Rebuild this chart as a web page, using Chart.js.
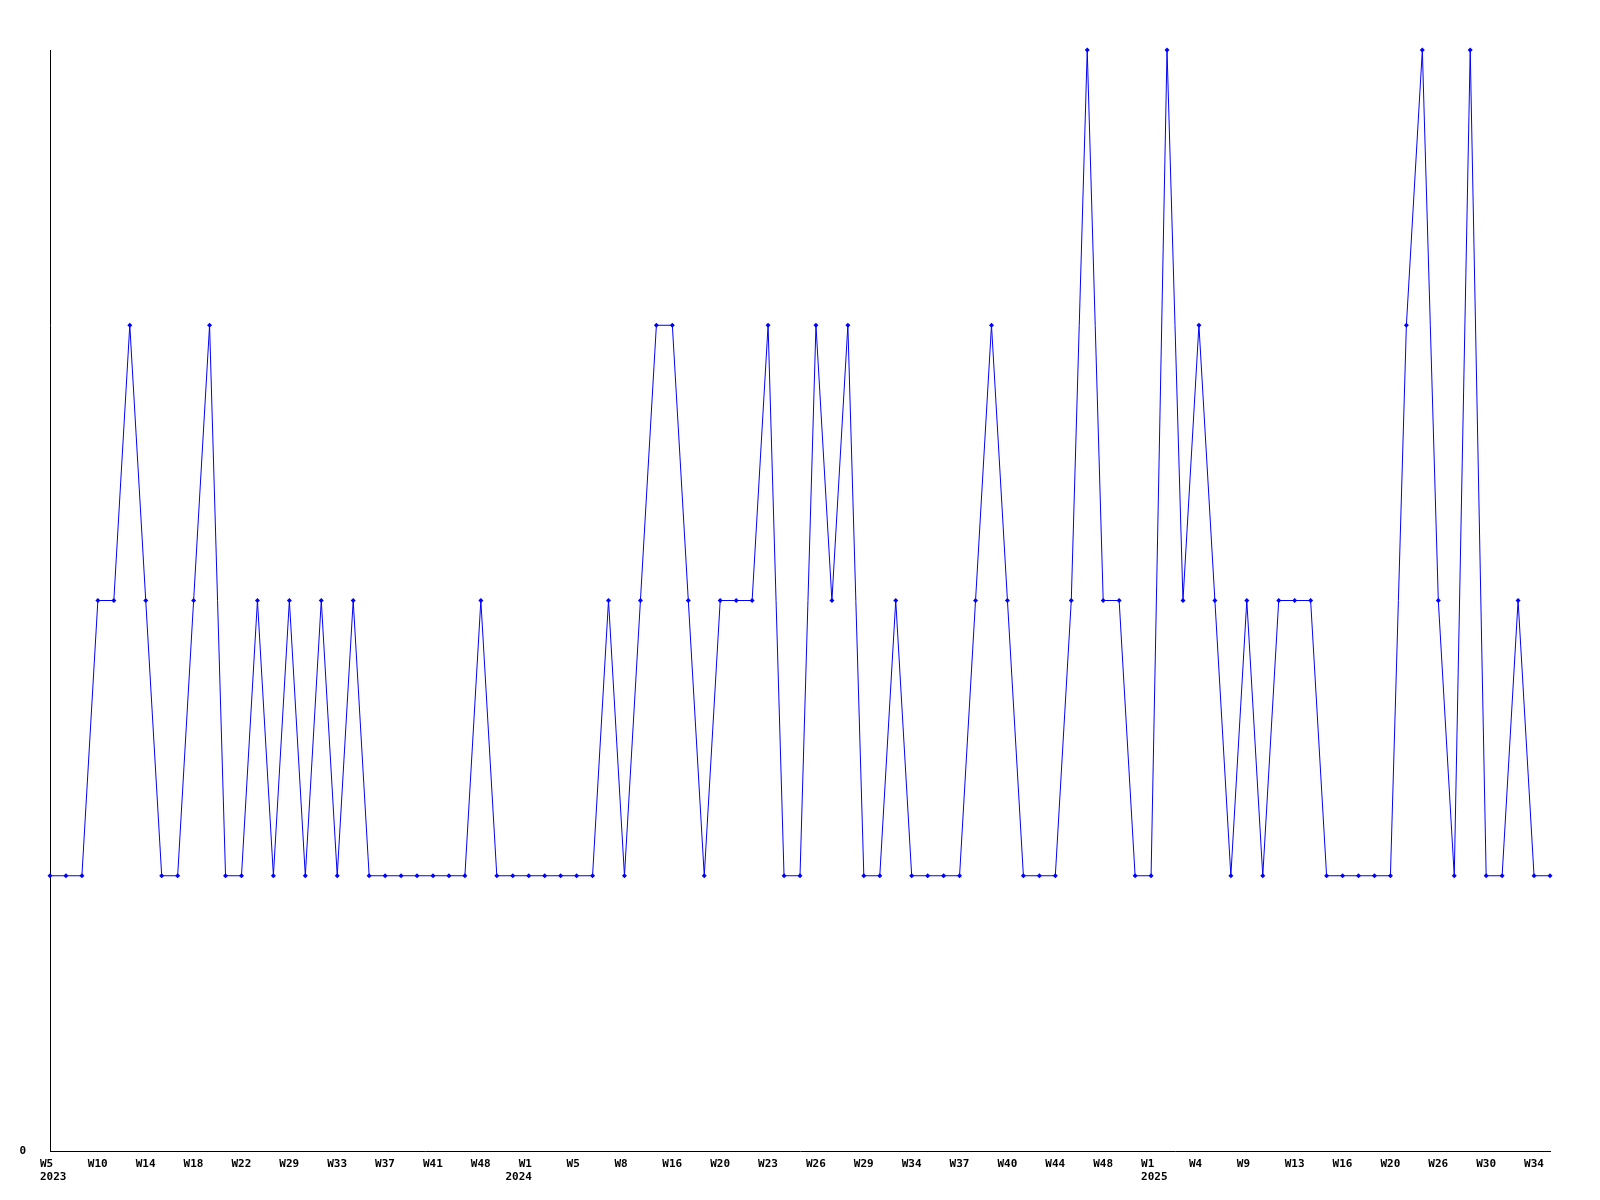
<!DOCTYPE html>
<html>
<head>
<meta charset="utf-8">
<script src="https://cdn.jsdelivr.net/npm/chart.js@4/dist/chart.umd.min.js"></script>
<style>
  html, body { margin: 0; padding: 0; background: #ffffff; }
  #wrap { width: 1600px; height: 1200px; position: relative; }
</style>
</head>
<body>
<div id="wrap"><canvas id="c" width="1600" height="1200"></canvas></div>
<script>
// Week categories (one per data point). Every third label is shown on the axis.
const weeks = [
  'W5','W6','W8','W10','W11','W12','W14','W15','W16','W18','W19','W20','W22','W24','W27','W29','W30','W31','W33','W34','W35','W37','W38','W39','W41','W43','W45','W48','W50','W52',
  'W1','W2','W3','W5','W6','W7','W8','W11','W14','W16','W17','W18','W20','W21','W22','W23','W24','W25','W26','W27','W28','W29','W31','W32','W34','W35','W36','W37','W38','W39','W40','W42','W43','W44','W46','W47','W48','W50','W51',
  'W1','W2','W3','W4','W6','W7','W9','W11','W12','W13','W14','W15','W16','W17','W18','W20','W22','W24','W26','W27','W28','W30','W31','W32','W34','W35'
];
// Year labels and the category index where each year starts
const years = ['2023', '2024', '2025'];
const yearStartIndex = [0, 30, 69];

// Series values
const counts = [
  1,1,1,2,2,3,2,1,1,2,3,1,1,2,1,2,1,2,1,2,1,1,1,1,1,1,1,2,1,1,
  1,1,1,1,1,2,1,2,3,3,2,1,2,2,2,3,1,1,3,2,3,1,1,2,1,1,1,1,2,3,2,1,1,1,2,4,2,2,1,
  1,4,2,3,2,1,2,1,2,2,2,1,1,1,1,1,3,4,2,1,4,1,1,2,1,1
];

const yTickLabels = { 0: '0' };
const labelEvery = 3;

const FONT_FAMILY = '"DejaVu Sans Mono", monospace';
const tickFont = { family: FONT_FAMILY, size: 11, weight: 'bold', lineHeight: 1.4 };

// Draws the year under the first week label of each year
const yearLabels = {
  id: 'yearLabels',
  afterDraw(chart) {
    const xs = chart.scales.x;
    const ctx = chart.ctx;
    ctx.save();
    ctx.font = 'bold 11px ' + FONT_FAMILY;
    ctx.fillStyle = '#000000';
    ctx.textBaseline = 'middle';
    years.forEach((yr, k) => {
      const idx = yearStartIndex[k];
      const px = xs.getPixelForValue(idx);
      const wk = weeks[idx];
      const startX = px - 10;
      if (k === 1) {
        // right-aligned with the week label above it
        ctx.textAlign = 'right';
        ctx.fillText(yr, startX + ctx.measureText(wk).width, xs.top + 26);
      } else {
        ctx.textAlign = 'left';
        ctx.fillText(yr, startX, xs.top + 26);
      }
    });
    ctx.restore();
  }
};

new Chart(document.getElementById('c'), {
  type: 'line',
  data: {
    labels: weeks,
    datasets: [{
      data: counts,
      borderColor: '#0000ff',
      backgroundColor: '#0000ff',
      borderWidth: 1,
      tension: 0,
      pointStyle: 'rectRot',
      pointRadius: 2.5,
      pointBorderWidth: 0,
      pointBackgroundColor: '#0000ff',
      clip: false,
      fill: false
    }]
  },
  options: {
    responsive: false,
    animation: false,
    events: [],
    layout: { padding: { top: 50, right: 50, left: 0, bottom: 0 } },
    plugins: { legend: { display: false }, tooltip: { enabled: false }, title: { display: false } },
    scales: {
      x: {
        type: 'category',
        offset: false,
        grid: { display: false, drawTicks: false },
        border: { display: true, color: '#000000', width: 1 },
        ticks: {
          autoSkip: false,
          maxRotation: 0,
          minRotation: 0,
          align: 'start',
          labelOffset: -10,
          padding: 5,
          color: '#000000',
          font: tickFont,
          callback: function(v, i) {
            return (i % labelEvery === 0) ? weeks[i] : '';
          }
        },
        afterFit: function(s) { s.height = 49; }
      },
      y: {
        min: 0,
        max: 4,
        grid: { display: false, drawTicks: false },
        border: { display: true, color: '#000000', width: 1 },
        ticks: {
          stepSize: 1,
          padding: 24,
          color: '#000000',
          font: tickFont,
          callback: function(v) { return yTickLabels[v] !== undefined ? yTickLabels[v] : ''; }
        },
        afterFit: function(s) { s.width = 50; }
      }
    }
  },
  plugins: [yearLabels]
});
</script>
</body>
</html>
